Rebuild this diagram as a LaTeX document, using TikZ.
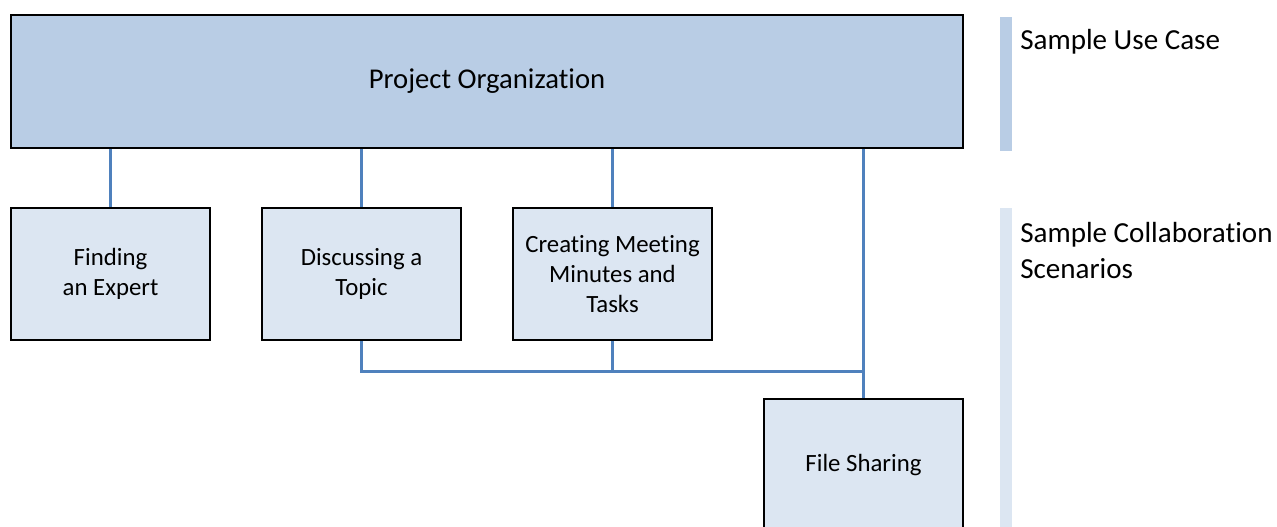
\documentclass[tikz,border=0pt]{standalone}
\usepackage{fontspec}
\setmainfont{Carlito}[Ligatures=NoCommon]

\definecolor{orgblue}{HTML}{B9CDE5}
\definecolor{caseblue}{HTML}{DCE6F2}
\definecolor{linkblue}{HTML}{4F81BD}

\begin{document}
\begin{tikzpicture}[x=0.75pt,y=-0.75pt]
    \tikzstyle{block} = [rectangle,draw=black,line width=1.5pt,inner
    sep=0pt,align=center];
    \tikzstyle{usecase} = [block,fill=orgblue,minimum width=714pt,minimum
    height=99.75pt,font=\fontsize{21.5}{26}\selectfont];
    \tikzstyle{scenario} = [block,fill=caseblue,minimum width=149.25pt,minimum
    height=99pt,font=\fontsize{18.6}{22.5}\selectfont,node
    distance=188.25pt];
    \tikzstyle{keyitem} = [anchor=west,inner sep=0pt,align=left,
    font=\fontsize{21.8}{27}\selectfont];
    \tikzstyle{link} = [linkblue,line width=2.25pt];

    \useasboundingbox (0,0) rectangle (1277,527);

    \node[usecase,name=org] at (487,81.5) {Project Organization};

    \node[scenario,name=finding] at (110.5,274) {Finding\\an Expert};
    \node[scenario,name=topic,right of=finding] {Discussing a\\Topic};
    \node[scenario,name=meeting,right of=topic] {Creating Meeting\\Minutes and\\Tasks};
    \node[scenario,name=filesharing,right of=meeting,yshift=-143.25pt] {File Sharing};

    \draw[link] (finding.north) -- (finding.north |- org.south);
    \draw[link] (topic.north) -- (topic.north |- org.south);
    \draw[link] (meeting.north) -- (meeting.north |- org.south);
    \draw[link] (filesharing.north) -- (filesharing.north |- org.south);

    \draw[link] (topic.south) -- ++(0,30) -| (filesharing.north);
    \draw[link] (meeting.south) -- ++(0,30);

    % key on the right
    \fill[orgblue] (1000,17) rectangle (1012,151);
    \fill[caseblue] (1000,208) rectangle (1012,527);
    \node[keyitem,name=usecasekey] at (1020,42) {Sample Use Case};
    \node[keyitem,name=scenariokey] at (1020,251) {Sample Collaboration\\Scenarios};

\end{tikzpicture}
\end{document}
